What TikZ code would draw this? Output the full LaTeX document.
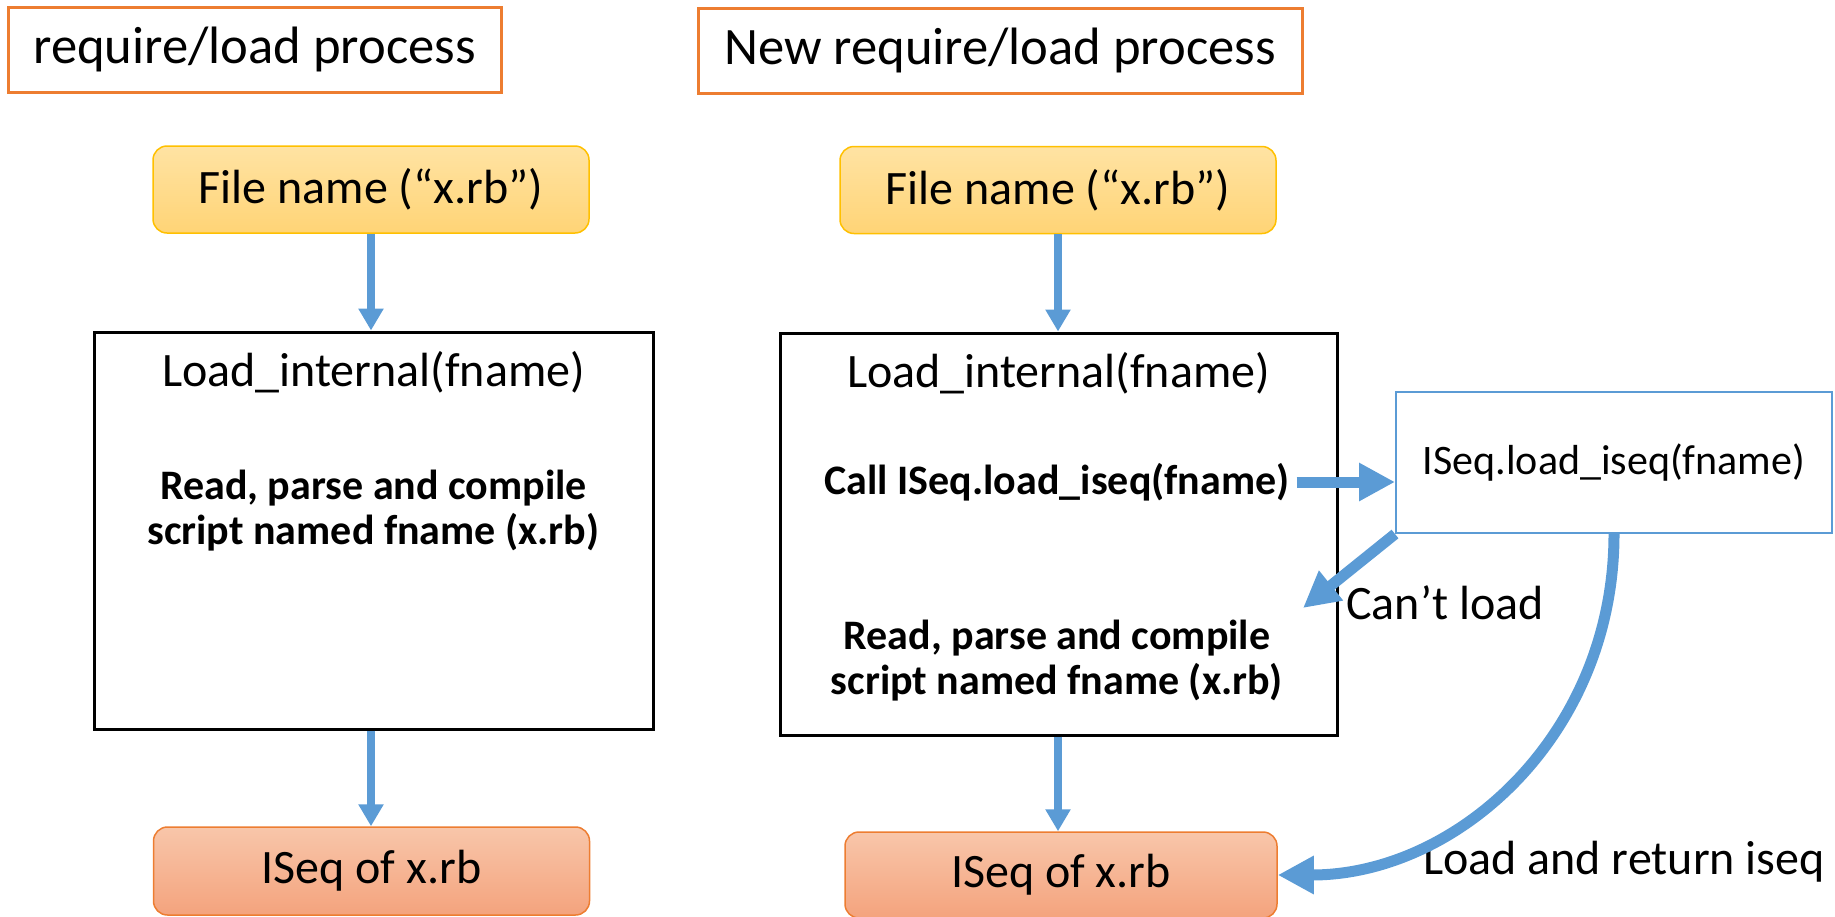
\documentclass[tikz,border=0pt]{standalone}
\usepackage{fontspec}
\setmainfont{Carlito}
\usetikzlibrary{positioning}
\usetikzlibrary{arrows.meta}
\definecolor{titleedge}{HTML}{ED7D31}
\definecolor{fileedge}{HTML}{FFC000}
\definecolor{filetop}{HTML}{FFE3A3}
\definecolor{filebottom}{HTML}{FFD476}
\definecolor{seqedge}{HTML}{ED7D31}
\definecolor{seqtop}{HTML}{F8C6AA}
\definecolor{seqbottom}{HTML}{F4A37D}
\definecolor{flowblue}{HTML}{5B9BD5}
\tikzset{
  titlebox/.style = {shape=rectangle, draw=titleedge, line width=1.5pt,
                     minimum height=42.5pt, font=\fontsize{26.3}{31}\selectfont},
  filebox/.style  = {shape=rectangle, rounded corners=7pt,
                     draw=fileedge, line width=0.75pt,
                     top color=filetop, bottom color=filebottom,
                     minimum width=218pt, minimum height=43.5pt,
                     font=\fontsize{24}{29}\selectfont},
  seqbox/.style   = {filebox, draw=seqedge, top color=seqtop, bottom color=seqbottom},
  loadbox/.style  = {shape=rectangle, draw=black, line width=1.5pt,
                     minimum width=279.5pt, minimum height=198.5pt},
  iseqbox/.style  = {shape=rectangle, draw=flowblue, line width=1pt,
                     minimum width=218pt, minimum height=70.5pt,
                     font=\fontsize{21}{25}\selectfont},
  note/.style     = {font=\fontsize{24}{29}\selectfont},
  boldnote/.style = {font=\fontsize{21}{22.5}\selectfont\bfseries, align=center},
  flow/.style     = {-{Triangle[length=11pt,width=12pt]}, draw=flowblue, line width=4pt},
  bigflow/.style  = {-{Triangle[length=18pt,width=18pt]}, draw=flowblue, line width=5.5pt}
}

\begin{document}
\begin{tikzpicture}[x=0.5pt, y=-0.5pt]
  \useasboundingbox (0,0) rectangle (1835,916);
  % old process
  \node [titlebox, minimum width=246.5pt] (oldtitle) at (254.5,49.5) {require/load process};
  \node [filebox] (oldfile) at (371,189.5) {File name (“x.rb”)};
  \node [loadbox] (oldload) at (373.5,530.5) {};
  \node [note] (oldfn) at (373.5,372) {Load\_internal(fname)};
  \node [boldnote] (oldread) at (373.5,510.5) {Read, parse and compile\\script named fname (x.rb)};
  \node [seqbox, minimum height=44pt] (oldseq) at (371.5,871) {ISeq of x.rb};
  \draw [flow] (oldfile.south) -- (oldfile.south |- oldload.north);
  \draw [flow] (oldfile.south |- oldload.south) -- (oldfile.south |- oldseq.north);
  % new process
  \node [titlebox, minimum width=302pt] (newtitle) at (1000,50.5) {New require/load process};
  \node [filebox] (newfile) at (1058,190) {File name (“x.rb”)};
  \node [loadbox, minimum width=278.5pt, minimum height=201pt] (newload) at (1058.5,534) {};
  \node [note] (newfn) at (1058.5,373) {Load\_internal(fname)};
  \node [boldnote] (call) at (1057,482) {Call ISeq.load\_iseq(fname)};
  \node [boldnote] (newread) at (1057,660.5) {Read, parse and compile\\script named fname (x.rb)};
  \node [seqbox, minimum width=216pt, minimum height=43pt] (newseq) at (1061,875) {ISeq of x.rb};
  \node [iseqbox] (loader) at (1614,462.5) {ISeq.load\_iseq(fname)};
  \coordinate (fallback) at (1303,608);
  \node [note] (cantlabel) at (1445,603) {Can’t load};
  \node [note] (retlabel) at (1624,862) {Load and return iseq};
  \draw [flow] (newfile.south) -- (newfile.south |- newload.north);
  \draw [flow] (newfile.south |- newload.south) -- (newfile.south |- newseq.north);
  \draw [bigflow] (call.east) -- (call.east -| loader.west);
  \draw [bigflow] (loader.south west) -- (fallback);
  \draw [bigflow] (loader.south) .. controls +(0,200) and +(180,0) .. (newseq.east);
\end{tikzpicture}
\end{document}
